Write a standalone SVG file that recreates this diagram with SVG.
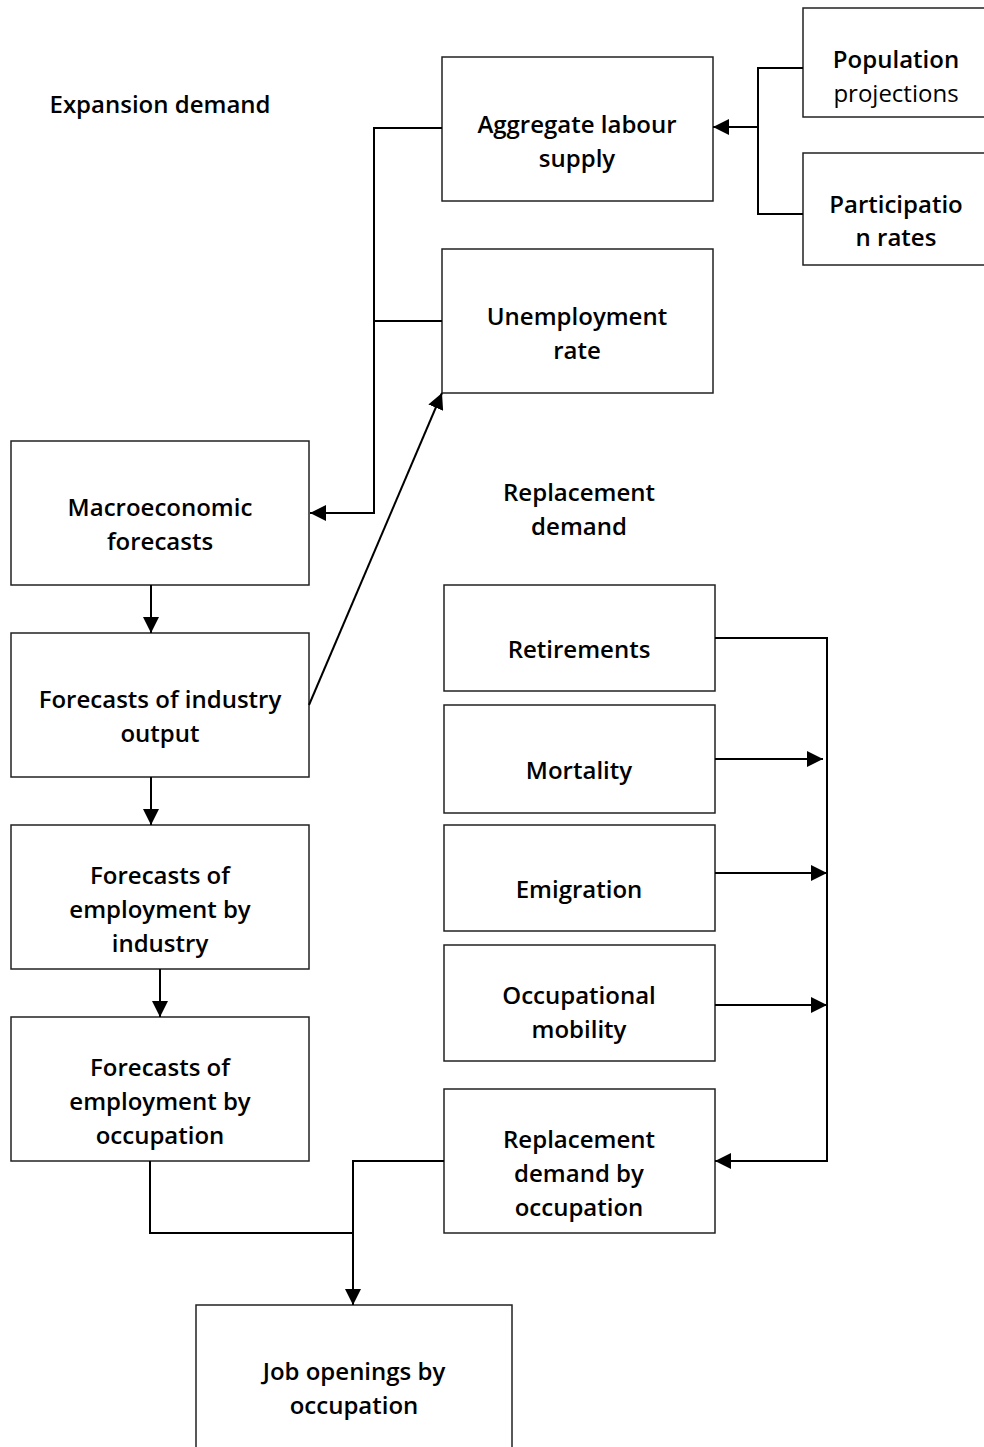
<svg xmlns="http://www.w3.org/2000/svg" width="984" height="1447" viewBox="0 0 984 1447">
<style>
.box{fill:#fff;stroke:#222;stroke-width:1.5}
.t{font-family:"Open Sans",sans-serif;font-size:24px;font-weight:600;fill:#000;text-anchor:middle}
.r{font-weight:400}
.c{fill:none;stroke:#000;stroke-width:2}
</style>
<defs>
<marker id="ah" viewBox="0 0 10 10" refX="10" refY="5" markerWidth="16" markerHeight="16" markerUnits="userSpaceOnUse" orient="auto">
<path d="M0,0 L10,5 L0,10 z" fill="#000"/>
</marker>
</defs>
<rect width="984" height="1447" fill="#fff"/>
<g id="labels">
<text class="t" x="160" y="113">Expansion demand</text>
<text class="t" x="579" y="501">Replacement</text>
<text class="t" x="579" y="535">demand</text>
</g>
<g id="n-pop"><rect class="box" x="803" y="8" width="190" height="109"/>
<text class="t" x="896" y="68">Population</text><text class="t r" x="896" y="102">projections</text></g>
<g id="n-part"><rect class="box" x="803" y="153" width="190" height="112"/>
<text class="t" x="896" y="213">Participatio</text><text class="t" x="896" y="246">n rates</text></g>
<g id="n-agg"><rect class="box" x="442" y="57" width="271" height="144"/>
<text class="t" x="577" y="133">Aggregate labour</text><text class="t" x="577" y="167">supply</text></g>
<g id="n-unemp"><rect class="box" x="442" y="249" width="271" height="144"/>
<text class="t" x="577" y="325">Unemployment</text><text class="t" x="577" y="359">rate</text></g>
<g id="n-macro"><rect class="box" x="11" y="441" width="298" height="144"/>
<text class="t" x="160" y="516">Macroeconomic</text><text class="t" x="160" y="550">forecasts</text></g>
<g id="n-ind"><rect class="box" x="11" y="633" width="298" height="144"/>
<text class="t" x="160" y="708">Forecasts of industry</text><text class="t" x="160" y="742">output</text></g>
<g id="n-empind"><rect class="box" x="11" y="825" width="298" height="144"/>
<text class="t" x="160" y="884">Forecasts of</text><text class="t" x="160" y="918">employment by</text><text class="t" x="160" y="952">industry</text></g>
<g id="n-empocc"><rect class="box" x="11" y="1017" width="298" height="144"/>
<text class="t" x="160" y="1076">Forecasts of</text><text class="t" x="160" y="1110">employment by</text><text class="t" x="160" y="1144">occupation</text></g>
<g id="n-ret"><rect class="box" x="444" y="585" width="271" height="106"/>
<text class="t" x="579" y="658">Retirements</text></g>
<g id="n-mort"><rect class="box" x="444" y="705" width="271" height="108"/>
<text class="t" x="579" y="779">Mortality</text></g>
<g id="n-emig"><rect class="box" x="444" y="825" width="271" height="106"/>
<text class="t" x="579" y="898">Emigration</text></g>
<g id="n-occmob"><rect class="box" x="444" y="945" width="271" height="116"/>
<text class="t" x="579" y="1004">Occupational</text><text class="t" x="579" y="1038">mobility</text></g>
<g id="n-repocc"><rect class="box" x="444" y="1089" width="271" height="144"/>
<text class="t" x="579" y="1148">Replacement</text><text class="t" x="579" y="1182">demand by</text><text class="t" x="579" y="1216">occupation</text></g>
<g id="n-job"><rect class="box" x="196" y="1305" width="316" height="160"/>
<text class="t" x="354" y="1380">Job openings by</text><text class="t" x="354" y="1414">occupation</text></g>
<g id="connectors">
<path class="c" d="M803,68 H758 V214 H803"/>
<path class="c" d="M758,127 H713" marker-end="url(#ah)"/>
<path class="c" d="M442,128 H374 V513 H310" marker-end="url(#ah)"/>
<path class="c" d="M442,321 H374"/>
<path class="c" d="M309,705 L442,393" marker-end="url(#ah)"/>
<path class="c" d="M151,585 V633" marker-end="url(#ah)"/>
<path class="c" d="M151,777 V825" marker-end="url(#ah)"/>
<path class="c" d="M160,969 V1017" marker-end="url(#ah)"/>
<path class="c" d="M715,638 H827 V1161 H715" marker-end="url(#ah)"/>
<path class="c" d="M715,759 H823" marker-end="url(#ah)"/>
<path class="c" d="M715,873 H827" marker-end="url(#ah)"/>
<path class="c" d="M715,1005 H827" marker-end="url(#ah)"/>
<path class="c" d="M150,1161 V1233 H353"/>
<path class="c" d="M444,1161 H353 V1305" marker-end="url(#ah)"/>
</g>
</svg>
